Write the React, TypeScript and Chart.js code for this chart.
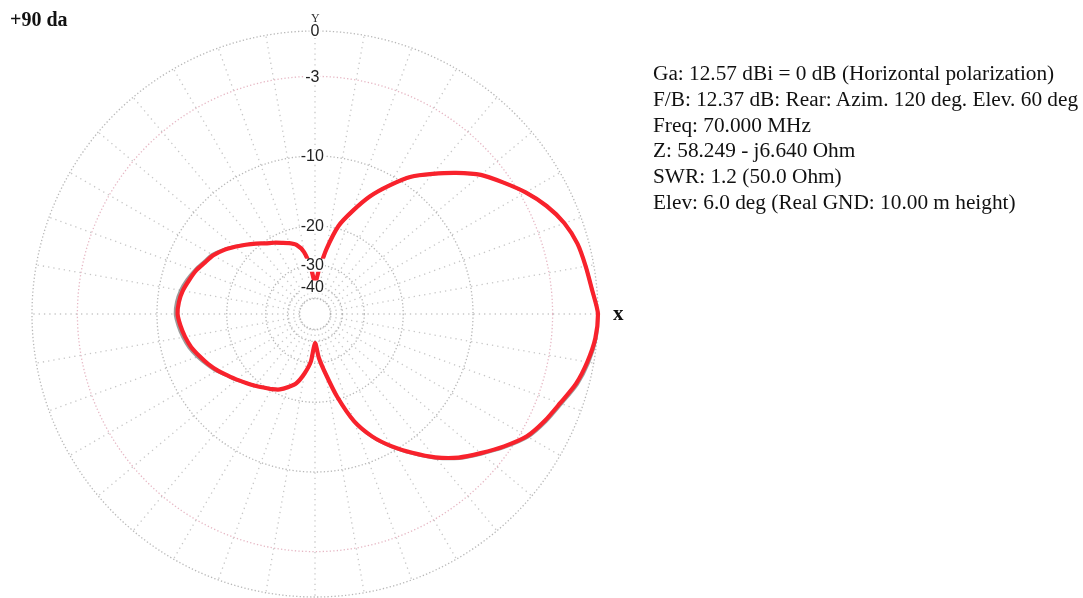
import React, { useEffect, useRef } from "react";
import { Chart, registerables } from "chart.js";

Chart.register(...registerables);

// Azimuth angles (deg, counter-clockwise from +X)
const azimuths = [
  0, 5, 10, 15, 20, 25, 30, 35, 40, 45, 50, 55, 60, 65, 70, 75, 80, 85,
  90, 95, 100, 105, 110, 115, 120, 125, 130, 135, 140, 145, 150, 155, 160, 165, 170, 175,
  180, 185, 190, 195, 200, 205, 210, 215, 220, 225, 230, 235, 240, 245, 250, 255, 260, 265,
  270, 275, 280, 285, 290, 295, 300, 305, 310, 315, 320, 325, 330, 335, 340, 345, 350, 355,
];

// Horizontal polarization pattern (dB relative to max)
const horizontalDb = [
  0, -0.3, -0.5, -0.7, -1.1, -1.75, -2.6, -3.6, -4.6, -6.0, -7.5, -9.0, -11.1, -13.4, -16.3, -19.4, -25.0, -32.0,
  -38.0, -31.0, -25.8, -23.6, -22.7, -22.0, -21.2, -20.4, -19.3, -18.2, -17.1, -16.0, -15.1, -14.5, -13.8, -13.3, -12.8, -12.5,
  -12.4, -12.7, -13.1, -13.6, -14.3, -15.0, -15.8, -16.7, -17.5, -18.3, -19.0, -19.7, -20.3, -21.0, -22.2, -23.6, -26.5, -30.5,
  -39.0, -32.0, -26.5, -20.5, -15.6, -12.7, -10.6, -8.8, -7.1, -5.7, -4.6, -3.5, -2.5, -1.9, -1.4, -0.8, -0.4, -0.1,
];

// Secondary (gray) trace, slightly offset
const totalDb = [
  0, -0.3, -0.5, -0.7, -1.1, -1.75, -2.6, -3.6, -4.6, -6.0, -7.5, -9.0, -11.1, -13.4, -16.3, -19.4, -25.0, -32.0,
  -38.0, -31.0, -25.8, -23.6, -22.7, -22.0, -21.2, -20.4, -19.3, -18.2, -17.0, -15.9, -14.9, -14.3, -13.6, -13.0, -12.5, -12.2,
  -12.1, -12.4, -12.8, -13.3, -14.0, -14.8, -15.6, -16.6, -17.4, -18.3, -19.0, -19.7, -20.3, -21.0, -22.2, -23.6, -26.5, -30.5,
  -39.0, -32.0, -26.5, -20.5, -15.6, -12.6, -10.5, -8.7, -7.0, -5.6, -4.5, -3.4, -2.4, -1.8, -1.3, -0.7, -0.3, -0.05,
];

// Grid rings (dB) and labelled rings
const gridDb = [-50, -40, -30, -20, -10, -3, 0];
const labeledDb = [0, -3, -10, -20, -30, -40];
const spokeStepDeg = 10;

const infoLines = [
  "Ga: 12.57 dBi = 0 dB (Horizontal polarization)",
  "F/B: 12.37 dB: Rear: Azim. 120 deg. Elev. 60 deg",
  "Freq: 70.000 MHz",
  "Z: 58.249 - j6.640 Ohm",
  "SWR: 1.2 (50.0 Ohm)",
  "Elev: 6.0 deg (Real GND: 10.00 m height)",
];

// ARRL log-periodic scale: 0.89 per 2 dB
const toRadius = (db: number) => Math.pow(0.89, -db / 2);

export default function App() {
  const canvasRef = useRef<HTMLCanvasElement | null>(null);

  useEffect(() => {
    if (!canvasRef.current) return;
    // radar goes clockwise; order points so azimuth grows counter-clockwise
    const order = azimuths.map((_, i) => (azimuths.length - i) % azimuths.length);
    const labels = order.map((k) => String(azimuths[k]));
    const redData = order.map((k) => toRadius(horizontalDb[k]));
    const grayData = order.map((k) => toRadius(totalDb[k]));
    const tickValues = [0, ...gridDb.map(toRadius)];
    const innerR = toRadius(gridDb[0]);
    const outerR = toRadius(0);
    const stepIdx = Math.round(spokeStepDeg / (360 / azimuths.length));

    const spokePlugin = {
      id: "spokes",
      beforeDatasetsDraw(chart: any) {
        const s = chart.scales.r;
        const ctx = chart.ctx;
        ctx.save();
        ctx.lineWidth = 1.3;
        ctx.setLineDash([1.3, 4]);
        ctx.strokeStyle = "rgba(175,175,175,0.7)";
        for (let i = 0; i < labels.length; i += stepIdx) {
          const a = s.getPointPositionForValue(i, innerR);
          const b = s.getPointPositionForValue(i, outerR);
          ctx.beginPath();
          ctx.moveTo(a.x, a.y);
          ctx.lineTo(b.x, b.y);
          ctx.stroke();
        }
        ctx.restore();
      },
    };

    const labelPlugin = {
      id: "dbLabels",
      afterDatasetsDraw(chart: any) {
        const s = chart.scales.r;
        const ctx = chart.ctx;
        ctx.save();
        ctx.font = '16px "Liberation Sans", Arial, sans-serif';
        ctx.textBaseline = "middle";
        ctx.textAlign = "left";
        labeledDb.forEach((db) => {
          const d = s.getDistanceFromCenterForValue(toRadius(db));
          const y = s.yCenter - d;
          const digits = String(Math.abs(db));
          const dw = ctx.measureText(digits).width;
          const mw = db < 0 ? ctx.measureText("-").width : 0;
          const x0 = s.xCenter - dw / 2 - mw;
          ctx.fillStyle = "#ffffff";
          ctx.fillRect(x0 - 1, y - 6, dw + mw + 2, 13);
          ctx.fillStyle = "#222222";
          ctx.fillText((db < 0 ? "-" : "") + digits, x0, y + 1);
        });
        ctx.restore();
      },
    };

    const chart = new Chart(canvasRef.current, {
      type: "radar",
      data: {
        labels,
        datasets: [
          {
            label: "Horizontal",
            data: redData,
            borderColor: "#f8222c",
            borderWidth: 4.2,
            pointRadius: 0,
            fill: false,
            tension: 0.25,
          },
          {
            label: "Total",
            data: grayData,
            borderColor: "rgba(90,90,90,0.6)",
            borderWidth: 3,
            pointRadius: 0,
            fill: false,
            tension: 0.25,
          },
        ],
      },
      options: {
        animation: false,
        responsive: false,
        devicePixelRatio: 1,
        layout: { padding: { left: 32, right: 485, top: 31, bottom: 1 } },
        plugins: { legend: { display: false }, tooltip: { enabled: false } },
        elements: { line: { borderJoinStyle: "round", borderCapStyle: "round" } },
        scales: {
          r: {
            min: 0,
            max: 1,
            startAngle: 90,
            afterBuildTicks: (scale: any) => {
              scale.ticks = tickValues.map((v) => ({ value: v }));
            },
            ticks: { display: false },
            pointLabels: { display: false },
            grid: {
              circular: true,
              lineWidth: 1.3,
              color: (ctx: any) =>
                ctx.index === 6 ? "rgba(226,170,186,0.85)" : "rgba(165,165,165,0.8)",
            },
            border: { dash: [1.3, 2.2] },
            angleLines: { display: false },
          },
        },
      },
      plugins: [spokePlugin, labelPlugin],
    } as any);

    return () => chart.destroy();
  }, []);

  const serif = '"Liberation Serif", "Times New Roman", serif';

  return (
    <div style={{ position: "absolute", left: 0, top: 0, width: 1083, height: 598, background: "#fff", overflow: "hidden" }}>
      <canvas ref={canvasRef} width={1083} height={598} style={{ position: "absolute", left: 0, top: 0, width: 1083, height: 598 }} />
      <div style={{ position: "absolute", left: 10, top: 7, fontFamily: serif, fontWeight: "bold", fontSize: 20, lineHeight: "24px", color: "#111", whiteSpace: "nowrap" }}>
        +90 da
      </div>
      <div style={{ position: "absolute", left: 311, top: 12, fontFamily: serif, fontSize: 12, color: "#333", lineHeight: "12px" }}>
        Y
      </div>
      <div style={{ position: "absolute", left: 613, top: 302, fontFamily: serif, fontWeight: "bold", fontSize: 21, color: "#111", lineHeight: "22px" }}>
        x
      </div>
      <div style={{ position: "absolute", left: 653, top: 61, fontFamily: serif, fontSize: 21.3, lineHeight: "25.8px", color: "#111", whiteSpace: "nowrap" }}>
        {infoLines.map((t) => (
          <div key={t}>{t}</div>
        ))}
      </div>
    </div>
  );
}
